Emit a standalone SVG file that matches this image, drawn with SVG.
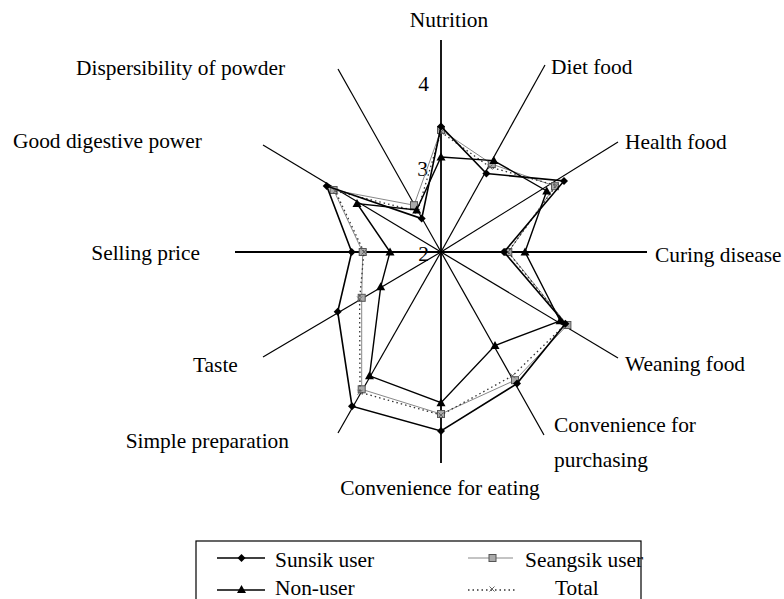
<svg xmlns="http://www.w3.org/2000/svg" width="784" height="599" viewBox="0 0 784 599" font-family="'Liberation Serif', 'Times New Roman', 'DejaVu Serif', serif">
<style>
text{font-family:'Liberation Serif','Times New Roman','DejaVu Serif',serif;font-size:21.4px;fill:#000}
.ax{stroke:#000;stroke-width:1.2;fill:none}
.axm{stroke:#000;stroke-width:1.8;fill:none}
.sun{fill:none;stroke:#000;stroke-width:1.6;marker-start:url(#dia);marker-mid:url(#dia)}
.non{fill:none;stroke:#000;stroke-width:1.4;marker-start:url(#tri);marker-mid:url(#tri)}
.sea{fill:none;stroke:#888;stroke-width:1;marker-start:url(#sq);marker-mid:url(#sq)}
.tot{fill:none;stroke:#333;stroke-width:1.3;stroke-dasharray:1.5 3;marker-start:url(#xm);marker-mid:url(#xm)}
</style>
<defs>
<marker id="dia" viewBox="-6 -6 12 12" markerWidth="12" markerHeight="12" markerUnits="userSpaceOnUse" refX="0" refY="0" orient="0"><path d="M0,-4 L4,0 L0,4 L-4,0Z" fill="#000"/></marker>
<marker id="tri" viewBox="-6 -6 12 12" markerWidth="12" markerHeight="12" markerUnits="userSpaceOnUse" refX="0" refY="0" orient="0"><path d="M0,-4.5 L4.5,3.5 L-4.5,3.5Z" fill="#000"/></marker>
<marker id="sq" viewBox="-6 -6 12 12" markerWidth="12" markerHeight="12" markerUnits="userSpaceOnUse" refX="0" refY="0" orient="0"><rect x="-3.5" y="-3.5" width="7" height="7" fill="#aaa" stroke="#555" stroke-width="1"/></marker>
<marker id="xm" viewBox="-6 -6 12 12" markerWidth="12" markerHeight="12" markerUnits="userSpaceOnUse" refX="0" refY="0" orient="0"><path d="M-2.5,-2.5 L2.5,2.5 M-2.5,2.5 L2.5,-2.5" stroke="#666" stroke-width="1" fill="none"/></marker>
</defs>
<rect width="784" height="599" fill="#fff"/>
<g id="axes">
<line class="axm" x1="441" y1="40" x2="441" y2="463"/>
<line class="axm" x1="235" y1="252" x2="647" y2="252"/>
<line class="ax" x1="441" y1="252" x2="545" y2="65"/>
<line class="ax" x1="441" y1="252" x2="618" y2="142"/>
<line class="ax" x1="441" y1="252" x2="618" y2="358"/>
<line class="ax" x1="441" y1="252" x2="544" y2="435"/>
<line class="ax" x1="441" y1="252" x2="338" y2="433"/>
<line class="ax" x1="441" y1="252" x2="263" y2="357"/>
<line class="ax" x1="441" y1="252" x2="263" y2="145"/>
<line class="ax" x1="441" y1="252" x2="338" y2="69"/>
</g>
<g id="scale" font-family="'Liberation Serif', serif" font-size="21.4">
<text x="429" y="91" text-anchor="end">4</text>
<text x="428" y="176" text-anchor="end">3</text>
<text x="429" y="261" text-anchor="end">2</text>
</g>
<g id="series">
<polygon id="seangsik" class="sea" points="441,130 491.8,164.1 555,186.2 508.3,252 567.4,325 515,380.2 441,414 361.7,389.3 361.7,297.8 362.7,252 333.6,190 414,205.2"/>
<polygon id="total" class="tot" points="441,132 490,167.1 556.2,185.5 508,252 565.7,324 512.5,375.8 441,415 360,392.3 359.6,299 364,252 335.3,191 417.5,211.3"/>
<polygon id="nonuser" class="non" points="441,157 493.8,160.6 546.7,191 525,252 560.1,320.8 495,345.5 441,402.7 369.5,375.8 380.7,286.8 390,252 357,203.5 416.7,209.9"/>
<polygon id="sunsik" class="sun" points="441,126.4 486.4,173.5 564,181 504,252 565.4,323.8 517,383.6 441,431 352,406.2 337.7,311.7 351.7,252 326.7,186 421.7,218.6"/>
</g>
<g id="labels" font-family="'Liberation Serif', serif" font-size="21.4">
<text x="449" y="27" text-anchor="middle">Nutrition</text>
<text x="551" y="74">Diet food</text>
<text x="625" y="149">Health food</text>
<text x="655" y="262">Curing disease</text>
<text x="625" y="371">Weaning food</text>
<text x="554" y="432">Convenience for</text>
<text x="554" y="467">purchasing</text>
<text x="440" y="495" text-anchor="middle">Convenience for eating</text>
<text x="289" y="448" text-anchor="end">Simple preparation</text>
<text x="193" y="372">Taste</text>
<text x="200" y="260" text-anchor="end">Selling price</text>
<text x="13" y="148">Good digestive power</text>
<text x="76" y="75">Dispersibility of powder</text>
</g>
<g id="legend" font-family="'Liberation Serif', serif" font-size="21.4">
<rect x="196" y="541" width="445" height="62" fill="none" stroke="#000" stroke-width="1.2"/>
<line x1="217" y1="558" x2="265" y2="558" stroke="#000" stroke-width="1.6"/>
<path d="M241.5,554 L245.5,558 L241.5,562 L237.5,558Z" fill="#000"/>
<text x="275" y="567">Sunsik user</text>
<line x1="217" y1="590" x2="265" y2="590" stroke="#000" stroke-width="1.4"/>
<path d="M241.5,585 L246,593 L237,593Z" fill="#000"/>
<text x="275" y="595">Non-user</text>
<line x1="468" y1="558" x2="513" y2="558" stroke="#888" stroke-width="1"/>
<rect x="489" y="554.5" width="7" height="7" fill="#aaa" stroke="#555" stroke-width="1"/>
<text x="525" y="567">Seangsik user</text>
<line x1="468" y1="590" x2="515" y2="590" stroke="#333" stroke-width="1.3" stroke-dasharray="1.5 3"/>
<path d="M489.5,586.5 L494.5,591.5 M489.5,591.5 L494.5,586.5" stroke="#666" stroke-width="1" fill="none"/>
<text x="555" y="595">Total</text>
</g>
</svg>
